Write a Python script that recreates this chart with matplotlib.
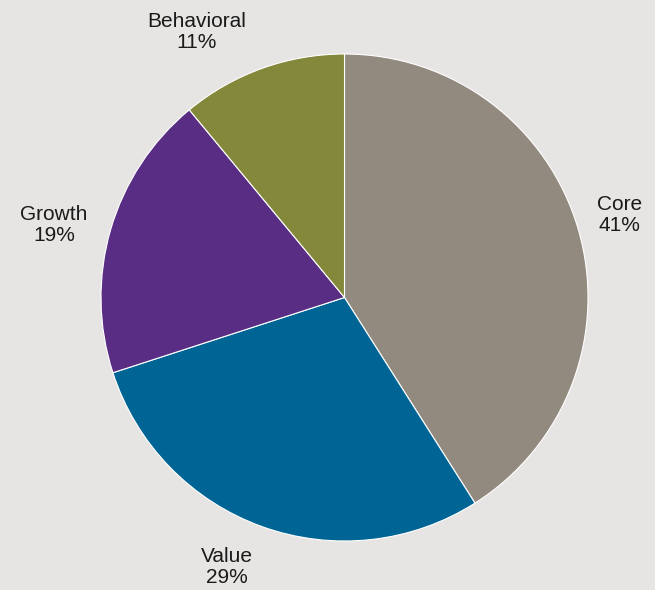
import matplotlib.pyplot as plt

# 스타일 구성 비중 (%)
labels = ['Core', 'Value', 'Growth', 'Behavioral']
shares = [41, 29, 19, 11]
colors = ['#928a7e', '#006595', '#582d83', '#84883b']

# 라벨 위치 (반지름 1 기준 좌표)
label_pos = [(1.131, 0.339), (-0.483, -1.107), (-1.193, 0.298), (-0.608, 1.090)]

plt.rcParams['font.family'] = ['Liberation Sans', 'DejaVu Sans']

fig = plt.figure(figsize=(6.55, 5.9), dpi=100)
fig.patch.set_facecolor('#e7e5e3')

cx, cy, r = 344.5, 297.5, 243.5   # 원의 중심과 반지름 (픽셀)
W, H = 655, 590
ax = fig.add_axes([(cx - r) / W, (H - cy - r) / H, 2 * r / W, 2 * r / H])
ax.set_facecolor('none')

ax.pie(shares, colors=colors, startangle=90, counterclock=False, radius=1,
       wedgeprops=dict(edgecolor='white', linewidth=0.8))
ax.set_xlim(-1, 1)
ax.set_ylim(-1, 1)
ax.set_aspect('equal')
ax.axis('off')

for name, v, (x, y) in zip(labels, shares, label_pos):
    ax.text(x, y, f'{name}\n{v}%', ha='center', va='center', fontsize=15,
            color='#1a1a1a', linespacing=1.15)

plt.savefig('out.png', dpi=100, facecolor=fig.get_facecolor())
